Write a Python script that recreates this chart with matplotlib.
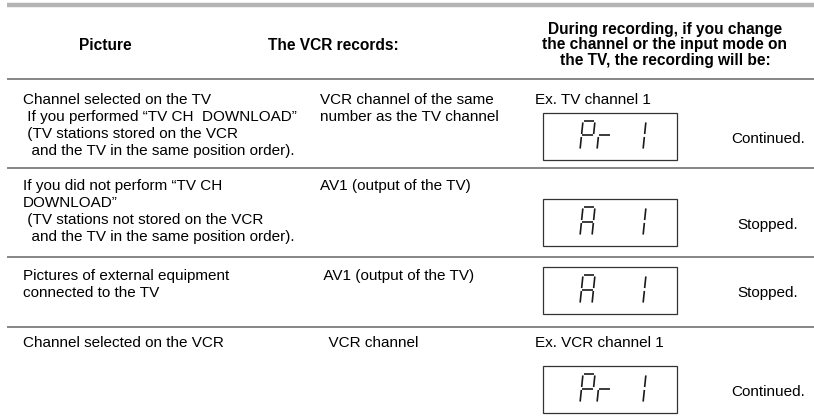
import matplotlib
matplotlib.use("Agg")
import matplotlib.pyplot as plt

plt.rcParams['font.family'] = ['Liberation Sans', 'DejaVu Sans']

# table content
headers = ["Picture", "The VCR records:",
           "During recording, if you change\nthe channel or the input mode on\nthe TV, the recording will be:"]

picture_lines = [
    ["Channel selected on the TV",
     " If you performed \u201cTV CH  DOWNLOAD\u201d",
     " (TV stations stored on the VCR",
     "  and the TV in the same position order)."],
    ["If you did not perform \u201cTV CH",
     "DOWNLOAD\u201d",
     " (TV stations not stored on the VCR",
     "  and the TV in the same position order)."],
    ["Pictures of external equipment",
     "connected to the TV"],
    ["Channel selected on the VCR"],
]
records_lines = [
    ["VCR channel of the same", "number as the TV channel"],
    ["AV1 (output of the TV)"],
    [" AV1 (output of the TV)"],
    ["  VCR channel"],
]
examples = ["Ex. TV channel 1", "", "", "Ex. VCR channel 1"]
displays = ["Pr 1", "A  1", "A  1", "Pr 1"]
status = ["Continued.", "Stopped.", "Stopped.", "Continued."]

# layout (pixels)
row_top = [79, 168, 257, 327]
row_text_y = [100, 186, 276, 343]
box_y = [113, 199, 267, 366]
box_x, box_w, box_h = 543, 134, 47
line_step = 17
fs = 11
hfs = 11.2

# 7-segment shapes
SEG = {
    'a': ((0.12, 0.0), (0.88, 0.0)),
    'b': ((1.0, 0.05), (1.0, 0.45)),
    'c': ((1.0, 0.55), (1.0, 0.95)),
    'd': ((0.12, 1.0), (0.88, 1.0)),
    'e': ((0.0, 0.55), (0.0, 0.95)),
    'f': ((0.0, 0.05), (0.0, 0.45)),
    'g': ((0.08, 0.5), (0.92, 0.5)),
}
CHARS = {'P': 'abefg', 'A': 'abcefg', 'r': 'eg', '1': 'bc', ' ': ''}


def draw_display(ax, x0, y0, text):
    ax.add_patch(plt.Rectangle((x0, y0), box_w, box_h, fill=False,
                               ec='#333333', lw=0.9))
    cw, chh, slant, pitch = 12, 29, 3, 17
    for k, ch in enumerate(text):
        cx = x0 + 37 + k * pitch
        cy = y0 + 8
        for s in CHARS[ch]:
            (u1, v1), (u2, v2) = SEG[s]
            xs = [cx + u1 * cw + slant * (1 - v1), cx + u2 * cw + slant * (1 - v2)]
            ys = [cy + v1 * chh, cy + v2 * chh]
            ax.plot(xs, ys, color='#1a1a1a', lw=1.2, solid_capstyle='butt')


fig = plt.figure(figsize=(8.14, 4.19), dpi=100)
ax = fig.add_axes([0, 0, 1, 1])
ax.set_xlim(0, 814)
ax.set_ylim(419, 0)
ax.axis('off')

# top band
ax.plot([7, 814], [5, 5], color='#b4b4b4', lw=3.2, solid_capstyle='butt')

# headers
ax.text(105, 45, headers[0], ha='center', va='center', fontsize=hfs, fontweight='bold')
ax.text(333, 45, headers[1], ha='center', va='center', fontsize=hfs, fontweight='bold')
ax.text(665, 45, headers[2], ha='center', va='center', fontsize=hfs,
        fontweight='bold', linespacing=1.08)

for i in range(4):
    ax.plot([7, 814], [row_top[i], row_top[i]], color='#666666', lw=1.1,
            solid_capstyle='butt')
    for j, s in enumerate(picture_lines[i]):
        ax.text(23, row_text_y[i] + j * line_step, s, ha='left', va='center', fontsize=fs)
    for j, s in enumerate(records_lines[i]):
        ax.text(320, row_text_y[i] + j * line_step, s, ha='left', va='center', fontsize=fs)
    if examples[i]:
        ax.text(535, row_text_y[i], examples[i], ha='left', va='center', fontsize=fs)
    draw_display(ax, box_x, box_y[i], displays[i])
    ax.text(768, box_y[i] + box_h / 2 + 2, status[i], ha='center', va='center', fontsize=fs)

fig.savefig('out.png', dpi=100)
